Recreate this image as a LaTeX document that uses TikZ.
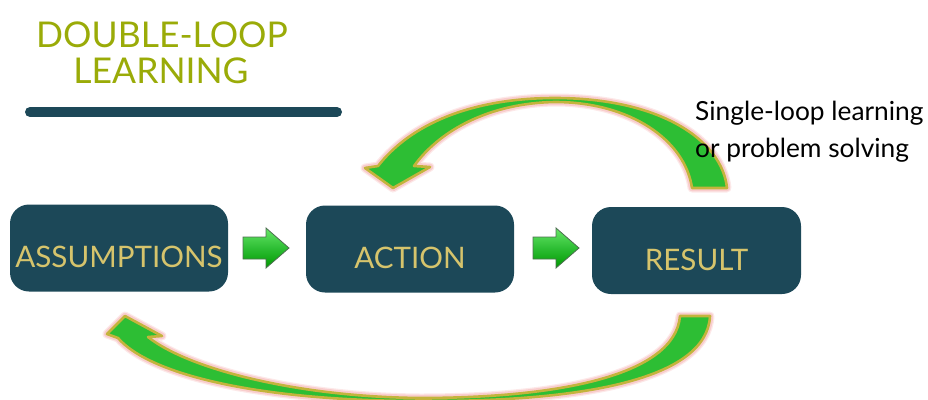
\documentclass[tikz,border=0pt]{standalone}
\usepackage{fontspec}
\setmainfont{Lato}
\usetikzlibrary{calc}
\definecolor{titlegreen}{HTML}{9AAB08}
\definecolor{boxblue}{HTML}{1C4858}
\definecolor{boxgold}{HTML}{D6C46C}
\definecolor{arrowgreen}{HTML}{2DBE34}
\definecolor{arrowrim}{HTML}{C4B43C}
\definecolor{glowpink}{HTML}{F29A9A}
\definecolor{smallrim}{HTML}{4D6E50}
\tikzset{
  stagebox/.style={fill=boxblue, rounded corners=19pt, minimum width=#1, minimum height=87pt, inner sep=0pt},
  stagetext/.style={text=boxgold, font=\fontsize{29.6}{31}\selectfont},
  titletext/.style={text=titlegreen, font=\fontsize{35.5}{37}\selectfont, anchor=base},
  notetext/.style={text=black, font=\fontsize{26.3}{30}\selectfont, anchor=base west, inner sep=0pt},
  glowa/.style={draw=glowpink, line width=9pt, opacity=0.22, line join=round},
  glowb/.style={draw=glowpink, line width=6.5pt, opacity=0.35, line join=round},
  bigarrow/.style={fill=arrowgreen, draw=arrowrim, line width=2.6pt, line join=round},
  smallarrow/.style={top color=green!55!white!90!black, bottom color=green!60!black, middle color=arrowgreen, draw=smallrim, line width=0.8pt, line join=miter}
}
\newcommand{\toploop}{(727,188) .. controls (722,140) and (660,98) .. (555,98)
   .. controls (470,98) and (410,125) .. (378,166)
   -- (365,168) -- (393,188) -- (430,167) -- (414,166)
   .. controls (440,130) and (490,103) .. (555,102)
   .. controls (630,102) and (685,140) .. (692,188) -- cycle}
\newcommand{\bottomloop}{(710,316) .. controls (707,380) and (580,402) .. (420,401)
   .. controls (260,401) and (150,375) .. (118,338)
   -- (107,334) -- (125,316) -- (162,336) -- (148,337)
   .. controls (190,370) and (300,397) .. (420,398)
   .. controls (560,398) and (675,375) .. (680,316) -- cycle}
\newcommand{\stepshape}{(0,9) -- (23,9) -- (23,0) -- (46,20) -- (23,40) -- (23,31) -- (0,31) -- cycle}
\begin{document}
\begin{tikzpicture}[x=1pt,y=-1pt]
\useasboundingbox (0,0) rectangle (928,399);
% title
\node[titletext] (t1) at (162,47) {DOUBLE-LOOP};
\node[titletext] (t2) at (161,83) {LEARNING};
\coordinate (barL) at (30,112);
\coordinate (barR) at (337,112);
\draw[boxblue, line width=10pt, line cap=round] (barL) -- (barR);
% boxes
\node[stagebox=218pt] (assume) at (119,248) {};
\node[stagebox=208pt] (action) at (410,249) {};
\node[stagebox=209pt] (result) at (696.5,250.5) {};
\node[stagetext] (assumeT) at ([yshift=-9pt]assume.center) {ASSUMPTIONS};
\node[stagetext] (actionT) at ([yshift=-9pt]action.center) {ACTION};
\node[stagetext] (resultT) at ([yshift=-9pt]result.center) {RESULT};
% small arrows
\begin{scope}[shift={(243,228)}]
\path[smallarrow] \stepshape;
\end{scope}
\begin{scope}[shift={(533,228)}]
\path[smallarrow] \stepshape;
\end{scope}
% big loop arrows
\path[glowa] \toploop;
\path[glowb] \toploop;
\path[bigarrow] \toploop;
\path[glowa] \bottomloop;
\path[glowb] \bottomloop;
\path[bigarrow] \bottomloop;
% note
\node[notetext] (n1) at (695,120) {Single-loop learning};
\node[notetext] (n2) at (695,157) {or problem solving};
\end{tikzpicture}
\end{document}
